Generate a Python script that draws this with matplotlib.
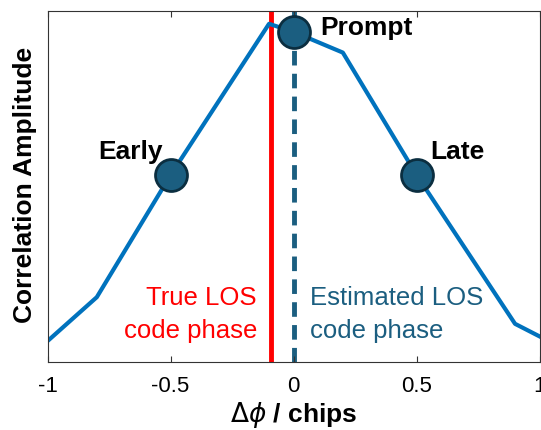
import matplotlib.pyplot as plt

# correlation curve (normalised amplitude)
dphi = [-1.0, -0.8, -0.5, -0.1, 0.0, 0.2, 0.5, 0.9, 1.0]
corr = [0.060, 0.185, 0.533, 0.964, 0.941, 0.882, 0.533, 0.109, 0.073]

# early / prompt / late correlators
elp_x = [-0.5, 0.0, 0.5]
elp_y = [0.533, 0.941, 0.533]
elp_names = ["Early", "Prompt", "Late"]

true_los = -0.09
est_los = 0.0

blue = "#0072BD"
dark = "#1B5E80"

plt.rcParams['font.family'] = ['Liberation Sans', 'DejaVu Sans']

fig = plt.figure(figsize=(5.41, 4.30), dpi=100)
ax = fig.add_axes([0.088, 0.158, 0.9095, 0.816])

ax.plot(dphi, corr, color=blue, lw=3, zorder=2)
ax.axvline(true_los, color="#FF0000", lw=3.5, zorder=1)
ax.axvline(est_los, color=dark, lw=3.5, ls=(0, (3.0, 1.7)), zorder=1)
ax.plot(elp_x, elp_y, 'o', ms=23, mfc=dark, mec="#0B2E40", mew=2, zorder=3)

ax.text(-0.531, 0.598, elp_names[0], fontsize=19, fontweight='bold', ha='right', va='center')
ax.text(0.107, 0.952, elp_names[1], fontsize=19, fontweight='bold', ha='left', va='center')
ax.text(0.554, 0.598, elp_names[2], fontsize=19, fontweight='bold', ha='left', va='center')

ax.text(-0.149, 0.135, "True LOS\ncode phase", color="#FF0000", fontsize=18.5,
        ha='right', va='center', multialignment='right', linespacing=1.45)
ax.text(0.065, 0.135, "Estimated LOS\ncode phase", color=dark, fontsize=18.5,
        ha='left', va='center', multialignment='left', linespacing=1.45)

ax.set_xlim(-1, 1)
ax.set_ylim(0, 1)
ax.set_xticks([-1, -0.5, 0, 0.5, 1])
ax.set_xticklabels(["-1", "-0.5", "0", "0.5", "1"])
ax.set_yticks([])
ax.tick_params(axis='x', direction='in', top=True, length=4, labelsize=16, pad=10, color="#333333")
for s in ax.spines.values():
    s.set_color("#333333")
    s.set_linewidth(0.8)

ax.set_xlabel(r"$\Delta\phi$ / chips", fontsize=19, fontweight='bold', labelpad=2)
fig.text(0.046, 0.57, "Correlation Amplitude", rotation=90, fontsize=19,
         fontweight='bold', ha='center', va='center')

fig.savefig("out.png", dpi=100)
